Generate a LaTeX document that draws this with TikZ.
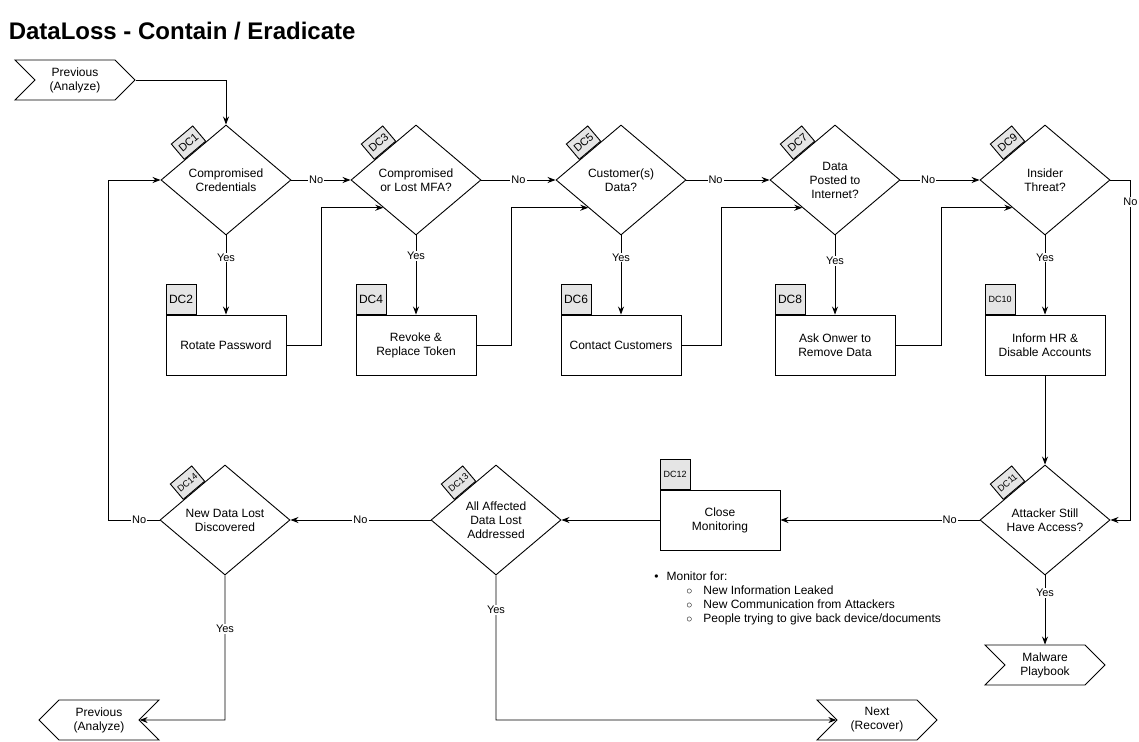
\documentclass[tikz,border=0pt]{standalone}
\usepackage{fontspec}
\setmainfont{Liberation Sans}
\usetikzlibrary{shapes.geometric,shapes.symbols,arrows.meta,calc}

\begin{document}
\begin{tikzpicture}[x=1pt, y=-1pt, line width=0.9pt,
    every node/.style={font=\fontsize{12}{14}\selectfont},
    decision/.style = {draw, diamond, aspect=1.18, minimum width=130pt, minimum height=110pt, inner sep=0pt, align=center, fill=white},
    action/.style = {draw, rectangle, minimum width=120pt, minimum height=60pt, align=center},
    tab/.style = {draw, fill=gray!20, minimum width=30pt, minimum height=30pt, inner sep=0pt, anchor=south west},
    dtag/.style = {draw, fill=gray!20, minimum width=28pt, minimum height=20pt, inner sep=0pt, rotate=40.2, anchor=south, font=\fontsize{11}{12}\selectfont},
    stepnode/.style = {draw, signal, signal pointer angle=90, minimum width=120pt, minimum height=40pt, inner sep=0pt, align=center},
    flow/.style = {-{Stealth[length=8pt,width=6pt]}},
    lbl/.style = {fill=white, inner sep=1pt, font=\fontsize{11}{12}\selectfont}]

    \useasboundingbox (0,0) rectangle (1139,741);

    \node[anchor=base west, font=\fontsize{24}{28}\selectfont\bfseries] (title) at (5,40) {DataLoss - Contain / Eradicate};

    % top row
    \node[stepnode, signal to=east, signal from=west] (prev) at (75,80) {Previous\\(Analyze)};
    \node[decision] (dc1) at (226,180) {Compromised\\Credentials};
    \node[decision] (dc3) at (416,180) {Compromised\\or Lost MFA?};
    \node[decision] (dc5) at (621,180) {Customer(s)\\Data?};
    \node[decision] (dc7) at (835,180) {Data\\Posted to\\Internet?};
    \node[decision] (dc9) at (1045,180) {Insider\\Threat?};

    \node[action] (dc2) at (226,345) {Rotate Password};
    \node[action] (dc4) at (416,345) {Revoke \&\\Replace Token};
    \node[action] (dc6) at (621,345) {Contact Customers};
    \node[action] (dc8) at (835,345) {Ask Onwer to\\Remove Data};
    \node[action] (dc10) at (1045,345) {Inform HR \&\\Disable Accounts};

    % bottom row
    \node[decision] (dc11) at (1045,520) {Attacker Still\\Have Access?};
    \node[action] (dc12) at (720,520) {Close\\Monitoring};
    \node[decision] (dc13) at (496,520) {All Affected\\Data Lost\\Addressed};
    \node[decision] (dc14) at (225,520) {New Data Lost\\Discovered};

    \node[stepnode, signal to=east, signal from=west] (malware) at (1045,665) {Malware\\Playbook};
    \node[stepnode, signal to=west, signal from=east] (prevb) at (99,720) {Previous\\(Analyze)};
    \node[stepnode, signal to=east, signal from=west] (next) at (877,720) {Next\\(Recover)};

    \node[anchor=north west, align=left, inner sep=0pt] (monitor) at (654,571)
        {\textbullet\hspace{8pt}Monitor for:\\
         \hspace{32pt}$\circ$\hspace{11pt}New Information Leaked\\
         \hspace{32pt}$\circ$\hspace{11pt}New Communication from Attackers\\
         \hspace{32pt}$\circ$\hspace{11pt}People trying to give back device/documents};

    % tags
    \foreach \dn in {1,3,5,7,9}
        \node[dtag] (dc\dn tag) at ($(dc\dn.west)!.53!(dc\dn.north)$) {DC\dn};
    \foreach \dn in {11,13,14}
        \node[dtag, font=\fontsize{9}{10}\selectfont] (dc\dn tag) at ($(dc\dn.west)!.53!(dc\dn.north)$) {DC\dn};
    \foreach \bn in {2,4,6,8}
        \node[tab] (dc\bn tab) at (dc\bn.north west) {DC\bn};
    \foreach \bn in {10,12}
        \node[tab, font=\fontsize{9}{10}\selectfont] (dc\bn tab) at (dc\bn.north west) {DC\bn};

    % connectors
    \draw[flow] (prev) -| (dc1);
    \draw[flow] (dc1) -- node[lbl, pos=.42]{No} (dc3);
    \draw[flow] (dc3) -- node[lbl, pos=.5]{No} (dc5);
    \draw[flow] (dc5) -- node[lbl, pos=.35]{No} (dc7);
    \draw[flow] (dc7) -- node[lbl, pos=.35]{No} (dc9);

    \draw[flow] (dc1) -- node[lbl, pos=.28]{Yes} (dc2);
    \draw[flow] (dc3) -- node[lbl, pos=.26]{Yes} (dc4);
    \draw[flow] (dc5) -- node[lbl, pos=.28]{Yes} (dc6);
    \draw[flow] (dc7) -- node[lbl, pos=.32]{Yes} (dc8);
    \draw[flow] (dc9) -- node[lbl, pos=.28]{Yes} (dc10);

    \draw[flow] (dc2.east) -- ++(35,0) |- ($(dc3.west)!.5!(dc3.south)$);
    \draw[flow] (dc4.east) -- ++(35,0) |- ($(dc5.west)!.5!(dc5.south)$);
    \draw[flow] (dc6.east) -- ++(40,0) |- ($(dc7.west)!.5!(dc7.south)$);
    \draw[flow] (dc8.east) -- ++(46,0) |- ($(dc9.west)!.5!(dc9.south)$);

    \draw[flow] (dc9.east) -- ++(20,0) coordinate (r9) -- node[lbl, pos=.065]{No} (r9 |- dc11.east) -- (dc11.east);
    \draw[flow] (dc10) -- (dc11);
    \draw[flow] (dc11) -- node[lbl, pos=.25]{Yes} (malware);
    \draw[flow] (dc11) -- node[lbl, pos=.15]{No} (dc12);
    \draw[flow] (dc12) -- (dc13);
    \draw[flow] (dc13) -- node[lbl]{No} (dc14);
    \draw[flow] (dc14.west) -- node[lbl, pos=.4]{No} ++(-51,0) |- (dc1.west);
    \draw[flow] (dc14.south) -- node[lbl, pos=.37]{Yes} (dc14.south |- prevb) -- (prevb);
    \draw[flow] (dc13.south) -- node[lbl, pos=.24]{Yes} (dc13.south |- next) -- (next);
\end{tikzpicture}
\end{document}
